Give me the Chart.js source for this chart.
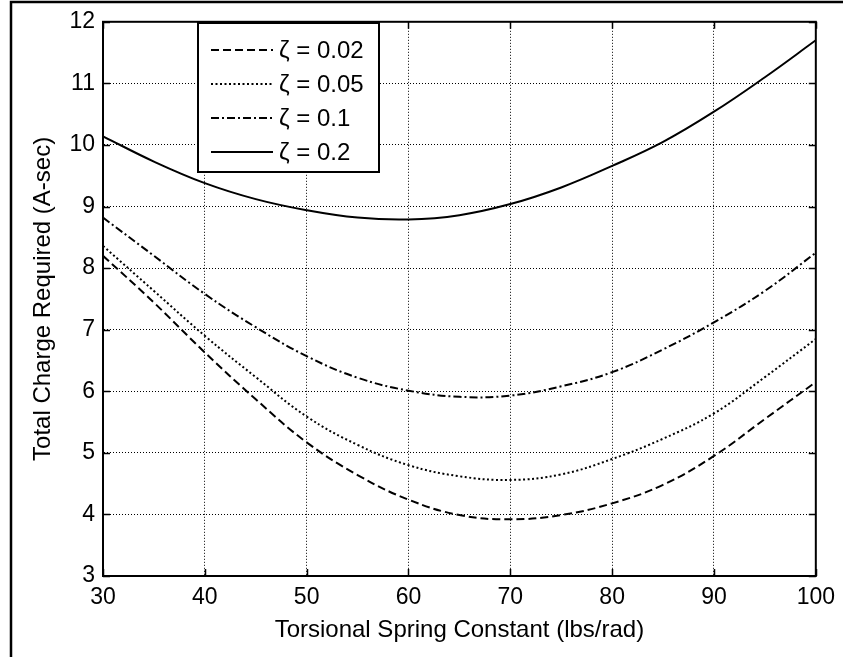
<!DOCTYPE html>
<html>
<head>
<meta charset="utf-8">
<script src="https://cdn.jsdelivr.net/npm/chart.js@4/dist/chart.umd.min.js"></script>
<style>
  html, body { margin: 0; padding: 0; background: #fff; }
  #wrap { position: relative; width: 843px; height: 657px; }
</style>
</head>
<body>
<div id="wrap"><canvas id="chargeChart"></canvas></div>
<script>
// torsional spring constant (lbs/rad) and total charge (A-sec) per damping ratio
const springConstant = [30, 35, 40, 45, 50, 55, 60, 65, 70, 75, 80, 85, 90, 95, 100];
const chargeZeta002 = [8.20, 7.44, 6.63, 5.87, 5.17, 4.64, 4.24, 3.99, 3.92, 3.99, 4.18, 4.48, 4.95, 5.55, 6.15];
const chargeZeta005 = [8.36, 7.63, 6.90, 6.23, 5.59, 5.13, 4.80, 4.62, 4.56, 4.65, 4.90, 5.23, 5.64, 6.23, 6.85];
const chargeZeta01 = [8.82, 8.20, 7.58, 7.04, 6.57, 6.22, 6.01, 5.91, 5.93, 6.08, 6.31, 6.68, 7.12, 7.63, 8.25];
const chargeZeta02 = [10.14, 9.73, 9.38, 9.12, 8.94, 8.82, 8.79, 8.86, 9.04, 9.31, 9.66, 10.05, 10.54, 11.10, 11.70];
const seriesLabels = ["\u03B6 = 0.02", "\u03B6 = 0.05", "\u03B6 = 0.1", "\u03B6 = 0.2"];
const xTickValues = [30, 40, 50, 60, 70, 80, 90, 100];
const yTickValues = [3, 4, 5, 6, 7, 8, 9, 10, 11, 12];

const FONT = "'Liberation Sans', Arial, Helvetica, sans-serif";
const TICK_SIZE = 23;
const LABEL_SIZE = 24;

const toPoints = (ys) => springConstant.map((x, i) => ({ x, y: ys[i] }));

const lineStyle = (label, ys, dash) => ({
  label,
  data: toPoints(ys),
  borderColor: "#000",
  borderWidth: 2,
  borderDash: dash,
  pointRadius: 0,
  tension: 0.4,
  fill: false,
});

// box, inward tick marks, legend and the outer figure edge
const matlabAxes = {
  id: "matlabAxes",
  afterDatasetsDraw(chart) {
    const { ctx, chartArea: a, scales } = chart;
    ctx.save();
    ctx.strokeStyle = "#000";
    ctx.setLineDash([]);

    ctx.lineWidth = 2;
    ctx.strokeRect(a.left, a.top, a.right - a.left, a.bottom - a.top);

    ctx.lineWidth = 1.5;
    const tl = 7;
    ctx.beginPath();
    xTickValues.forEach((v) => {
      const px = Math.round(scales.x.getPixelForValue(v)) + 0.5;
      ctx.moveTo(px, a.bottom); ctx.lineTo(px, a.bottom - tl);
      ctx.moveTo(px, a.top); ctx.lineTo(px, a.top + tl);
    });
    yTickValues.forEach((v) => {
      const py = Math.round(scales.y.getPixelForValue(v)) + 0.5;
      ctx.moveTo(a.left, py); ctx.lineTo(a.left + tl, py);
      ctx.moveTo(a.right, py); ctx.lineTo(a.right - tl, py);
    });
    ctx.stroke();

    // legend box
    const bx = 198, by = 23, bw = 181, bh = 149;
    ctx.fillStyle = "#fff";
    ctx.fillRect(bx, by, bw, bh);
    ctx.lineWidth = 2;
    ctx.strokeRect(bx, by, bw, bh);

    ctx.font = LABEL_SIZE + "px " + FONT;
    ctx.textBaseline = "middle";
    ctx.textAlign = "left";
    chart.data.datasets.forEach((ds, i) => {
      const ry = by + 27 + i * 34;
      ctx.beginPath();
      ctx.lineWidth = ds.borderWidth;
      ctx.setLineDash(ds.borderDash || []);
      ctx.moveTo(bx + 13, ry);
      ctx.lineTo(bx + 75, ry);
      ctx.stroke();
      ctx.setLineDash([]);
      ctx.fillStyle = "#000";
      ctx.fillText(ds.label, bx + 81, ry + 1);
    });

    // figure edge, top and left
    ctx.lineWidth = 2.5;
    ctx.beginPath();
    ctx.moveTo(11, 657); ctx.lineTo(11, 2); ctx.lineTo(843, 2);
    ctx.stroke();
    ctx.restore();
  },
};

document.addEventListener("DOMContentLoaded", () => {
  const ctx = document.getElementById("chargeChart");

  new Chart(ctx, {
    type: "line",
    data: {
      datasets: [
        lineStyle(seriesLabels[0], chargeZeta002, [8, 4]),
        lineStyle(seriesLabels[1], chargeZeta005, [2, 2.5]),
        lineStyle(seriesLabels[2], chargeZeta01, [8, 3, 2, 3]),
        lineStyle(seriesLabels[3], chargeZeta02, []),
      ],
    },
    options: {
      responsive: true,
      maintainAspectRatio: false,
      animation: false,
      layout: { padding: { left: 0, right: 26, top: 20, bottom: 0 } },
      plugins: {
        legend: { display: false },
        tooltip: { enabled: false },
      },
      scales: {
        x: {
          type: "linear",
          min: 30,
          max: 100,
          afterFit: (s) => { s.height = 81; },
          afterBuildTicks: (s) => { s.ticks = xTickValues.map((v) => ({ value: v })); },
          ticks: {
            color: "#000",
            padding: 8,
            maxRotation: 0,
            font: { family: FONT, size: TICK_SIZE },
          },
          grid: { color: "#000", lineWidth: 1, drawTicks: false },
          border: { display: true, color: "#000", width: 2, dash: [1, 2] },
          title: {
            display: true,
            text: "Torsional Spring Constant (lbs/rad)",
            color: "#000",
            font: { family: FONT, size: LABEL_SIZE },
            padding: { top: 0, bottom: 12 },
          },
        },
        y: {
          min: 3,
          max: 12,
          afterFit: (s) => { s.width = 103; },
          afterBuildTicks: (s) => { s.ticks = yTickValues.map((v) => ({ value: v })); },
          ticks: {
            color: "#000",
            padding: 8,
            font: { family: FONT, size: TICK_SIZE },
          },
          grid: { color: "#000", lineWidth: 1, drawTicks: false },
          border: { display: true, color: "#000", width: 2, dash: [1, 2] },
          title: {
            display: true,
            text: "Total Charge Required (A-sec)",
            color: "#000",
            font: { family: FONT, size: LABEL_SIZE },
            padding: { top: 29, bottom: 0 },
          },
        },
      },
    },
    plugins: [matlabAxes],
  });
});
</script>
</body>
</html>
